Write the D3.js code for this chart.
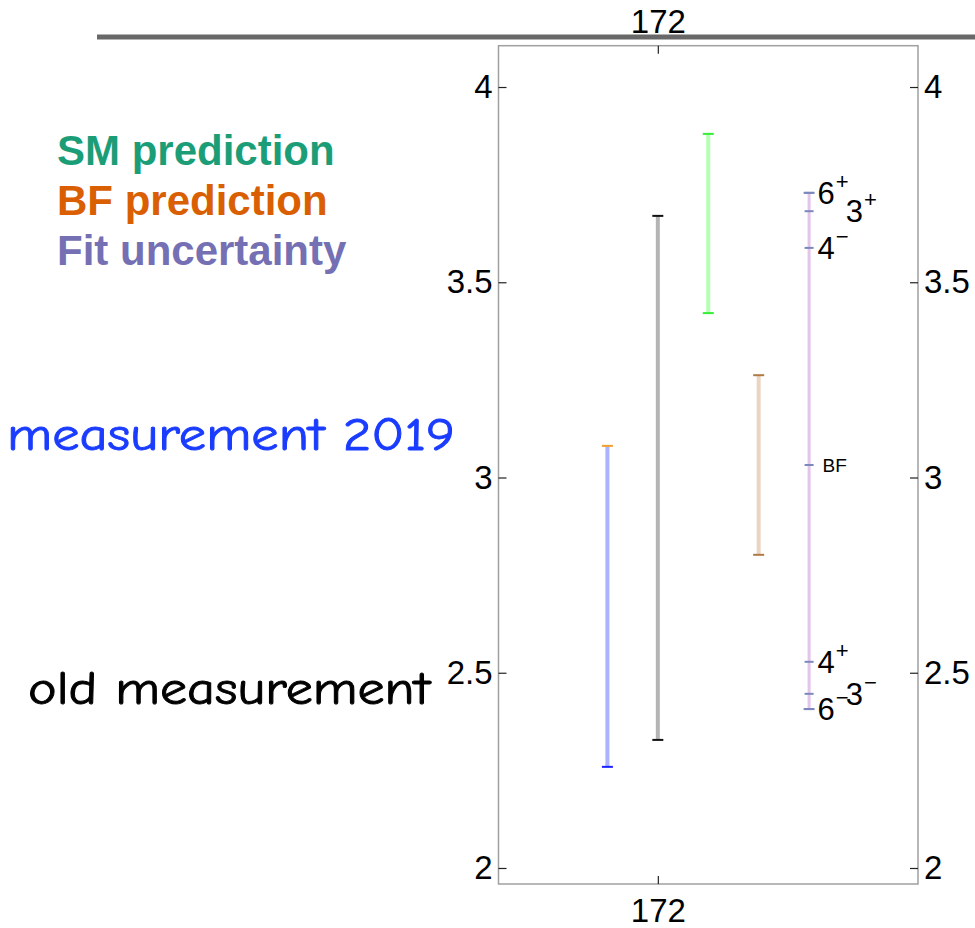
<!DOCTYPE html>
<html>
<head>
<meta charset="utf-8">
<script src="https://cdn.jsdelivr.net/npm/d3@7"></script>
<style>
  html, body { margin: 0; padding: 0; background: #fff; }
  svg { display: block; }
  .axis text { font-family: "Liberation Sans", Arial, sans-serif; font-size: 33px; fill: #000; }
  .axis path.domain { stroke: none; }
  .axis line { stroke: #222; stroke-width: 1.2; }
  .legend { font-family: "Liberation Sans", Arial, sans-serif; font-weight: bold; font-size: 42px; }
  .note { font-family: "Comic Sans MS", "Comic Neue", "DejaVu Sans", sans-serif; font-size: 46px; stroke-width: 0.9; }
  .lvl { font-family: "Liberation Sans", Arial, sans-serif; font-size: 31px; fill: #000; }
  .lvl .sup { font-size: 22px; }
  .lvl.small { font-size: 19px; }
</style>
</head>
<body>
<svg id="chart" width="975" height="928"></svg>
<script>
// Interval estimates, one bar per source (low / high edge)
const sources   = ["measurement 2019", "old measurement", "SM prediction", "BF prediction", "Fit uncertainty"];
const xValues   = [171.9, 172.0, 172.1, 172.2, 172.3];
const lowValues = [2.259, 2.328, 3.421, 2.802, 2.407];
const highValues= [3.081, 3.670, 3.880, 3.262, 3.729];

// Stems, lower caps and upper caps
const stemColors = ["#aab3ff", "#b4b4b4", "#b3ffb3", "#e9d5c2", "#e3c4ea"];
const lowCapColors  = ["#1a22ff", "#111111", "#33ee33", "#b07a44", "#7c88bc"];
const highCapColors = ["#f0a030", "#111111", "#33ee33", "#b07a44", "#7c88bc"];

// Fit levels marked along the fit-uncertainty bar
const levelNames  = ["6", "4", "4", "6", "3", "3", "BF"];
const levelSigns  = ["+", "\u2212", "+", "\u2212", "+", "\u2212", ""];
const levelValues = [3.729, 3.588, 2.528, 2.407, 3.682, 2.446, 3.032];

// Axis ticks
const yTicks = [2, 2.5, 3, 3.5, 4];
const yTickLabels = ["2", "2.5", "3", "3.5", "4"];
const xTicks = [172];
const xTickLabels = ["172"];

// Legend entries
const legendLabels = ["SM prediction", "BF prediction", "Fit uncertainty"];
const legendColors = ["#1b9e77", "#d95f02", "#7570b3"];

const svg = d3.select("#chart");
const frame = { left: 498.5, right: 918, top: 45.7, bottom: 884 };

const x = d3.scaleLinear().domain([171.684, 172.516]).range([frame.left, frame.right]);
const y = d3.scaleLinear().domain([1.959, 4.1058]).range([frame.bottom, frame.top]);

// heading rule above the panel
svg.append("line")
  .attr("x1", 97).attr("x2", 975).attr("y1", 37).attr("y2", 37)
  .attr("stroke", "#686868").attr("stroke-width", 5);

// panel frame
svg.append("rect")
  .attr("x", frame.left).attr("y", frame.top)
  .attr("width", frame.right - frame.left).attr("height", frame.bottom - frame.top)
  .attr("fill", "none").attr("stroke", "#a0a0a0").attr("stroke-width", 1.5);

const fmtY = d => yTickLabels[yTicks.indexOf(d)];
const fmtX = d => xTickLabels[xTicks.indexOf(d)];

svg.append("g").attr("class", "axis")
  .attr("transform", `translate(${frame.left},0)`)
  .call(d3.axisLeft(y).tickValues(yTicks).tickFormat(fmtY).tickSize(-8).tickPadding(6));
svg.append("g").attr("class", "axis")
  .attr("transform", `translate(${frame.right},0)`)
  .call(d3.axisRight(y).tickValues(yTicks).tickFormat(fmtY).tickSize(-8).tickPadding(6));
svg.append("g").attr("class", "axis")
  .attr("transform", `translate(0,${frame.top})`)
  .call(d3.axisTop(x).tickValues(xTicks).tickFormat(fmtX).tickSize(-8).tickPadding(13));
svg.append("g").attr("class", "axis")
  .attr("transform", `translate(0,${frame.bottom})`)
  .call(d3.axisBottom(x).tickValues(xTicks).tickFormat(fmtX).tickSize(-8).tickPadding(15));
svg.selectAll(".axis .tick line").attr("stroke", "#222");

// error bars
const bars = sources.map((s, i) => ({
  name: s, x: xValues[i], lo: lowValues[i], hi: highValues[i],
  stem: stemColors[i], loCap: lowCapColors[i], hiCap: highCapColors[i]
}));
const capHalf = 5.5;
const g = svg.append("g");
g.selectAll("line.stem").data(bars).join("line")
  .attr("class", "stem")
  .attr("x1", d => x(d.x)).attr("x2", d => x(d.x))
  .attr("y1", d => y(d.lo)).attr("y2", d => y(d.hi))
  .attr("stroke", d => d.stem).attr("stroke-width", (d, i) => i === 4 ? 3 : 4);
g.selectAll("line.hicap").data(bars).join("line")
  .attr("class", "hicap")
  .attr("x1", d => x(d.x) - capHalf).attr("x2", d => x(d.x) + capHalf)
  .attr("y1", d => y(d.hi)).attr("y2", d => y(d.hi))
  .attr("stroke", d => d.hiCap).attr("stroke-width", 2);
g.selectAll("line.locap").data(bars).join("line")
  .attr("class", "locap")
  .attr("x1", d => x(d.x) - capHalf).attr("x2", d => x(d.x) + capHalf)
  .attr("y1", d => y(d.lo)).attr("y2", d => y(d.lo))
  .attr("stroke", d => d.loCap).attr("stroke-width", 2);

// fit levels on the last bar
const fitX = x(xValues[4]);
const levels = levelNames.map((n, i) => ({ name: n, sign: levelSigns[i], v: levelValues[i] }));
g.selectAll("line.level").data(levels).join("line")
  .attr("class", "level")
  .attr("x1", fitX - 4.5).attr("x2", fitX + 4.5)
  .attr("y1", d => y(d.v)).attr("y2", d => y(d.v))
  .attr("stroke", "#7c88bc").attr("stroke-width", 2);

// level labels, pushed right when they would crowd an earlier one
const placed = [];
levels.forEach(d => {
  const isSmall = d.sign === "";
  const t = g.append("text").attr("class", isSmall ? "lvl small" : "lvl")
    .attr("y", y(d.v)).attr("dy", "0.36em");
  t.append("tspan").text(d.name);
  if (d.sign) t.append("tspan").attr("class", "sup").attr("dy", "-0.7em").attr("dx", "1").text(d.sign);
  let lx = fitX + (isSmall ? 13.5 : 8.5);
  placed.forEach(p => {
    if (Math.abs(p.y - y(d.v)) < 20 && p.x + p.w > lx) lx = p.x + p.w - 2;
  });
  t.attr("x", lx);
  placed.push({ x: lx, y: y(d.v), w: t.node().getComputedTextLength() });
});

// legend
svg.selectAll("text.legend").data(legendLabels).join("text")
  .attr("class", "legend")
  .attr("x", 57).attr("y", (d, i) => 165 + i * 50)
  .attr("fill", (d, i) => legendColors[i])
  .text(d => d);

// source annotations
svg.append("text").attr("class", "note")
  .attr("x", 7).attr("y", 450).attr("fill", "#1a3cff").attr("stroke", "#1a3cff")
  .attr("textLength", 448).attr("lengthAdjust", "spacingAndGlyphs")
  .text(sources[0]);
svg.append("text").attr("class", "note")
  .attr("x", 28).attr("y", 704).attr("fill", "#000").attr("stroke", "#000")
  .attr("textLength", 402).attr("lengthAdjust", "spacingAndGlyphs")
  .text(sources[1]);
</script>
</body>
</html>
